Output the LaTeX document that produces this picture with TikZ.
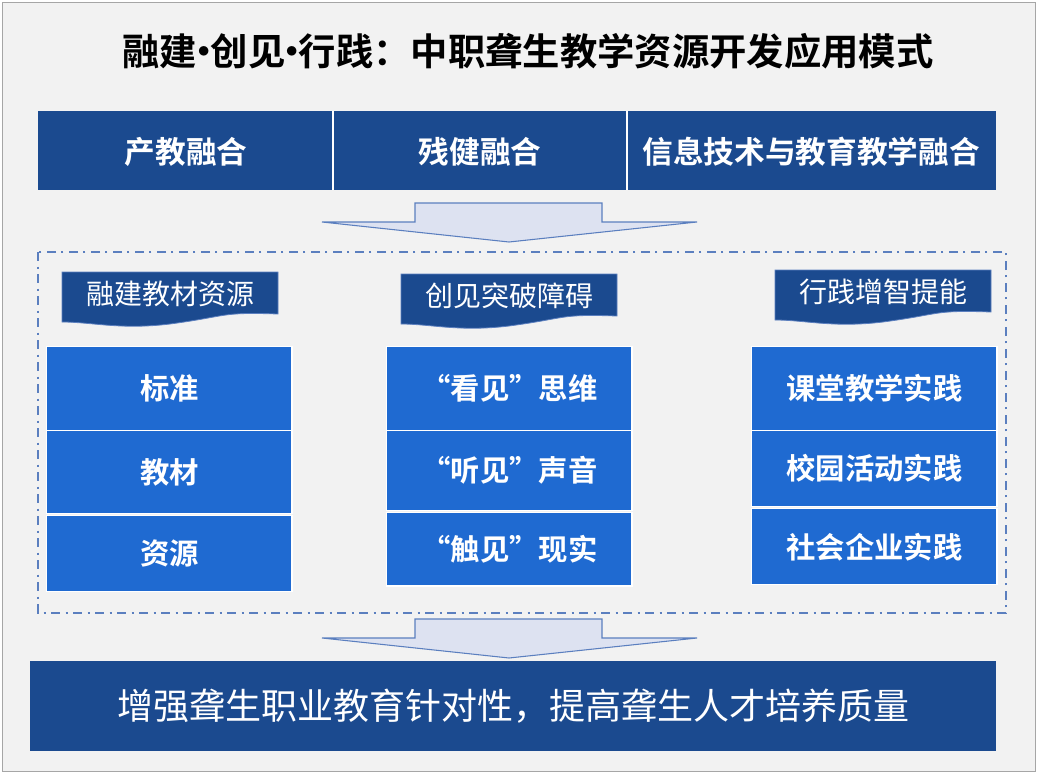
\documentclass[tikz,border=0pt]{standalone}
\usepackage{fontspec}
\setmainfont{Noto Sans CJK SC}
\newfontfamily\cjkb{Noto Sans CJK SC Bold}
\definecolor{dk}{HTML}{1B4A8F}
\definecolor{bl}{HTML}{1F6AD1}
\definecolor{bg}{HTML}{F2F2F2}
\definecolor{ar}{HTML}{DDE2F1}
\definecolor{arb}{HTML}{5B7FBF}
\newcommand{\md}{\hspace{-0.32em}·\hspace{-0.32em}}
\begin{document}
\begin{tikzpicture}[x=0.75pt,y=-0.75pt,
  bbox/.style={fill=bl,draw=white,line width=1pt},
  ttxt/.style={text=white,font=\cjkb\fontsize{23}{26}\selectfont},
  btxt/.style={text=white,font=\cjkb\fontsize{22}{26}\selectfont},
  ban/.style={fill=dk,draw=arb,line width=0.6pt},
  bantxt/.style={text=white,font=\fontsize{21}{24}\selectfont},
  bigarrow/.style={fill=ar,draw=arb,line width=0.8pt}]
\useasboundingbox (0,0) rectangle (1038,774);
\draw[fill=bg,draw=gray!70] (2,2) rectangle (1035,771);
\node[font=\cjkb\fontsize{28}{32}\selectfont] (title) at (528,51) {融建\md 创见\md 行践：中职聋生教学资源开发应用模式};
% top bar
\fill[dk] (38,111) rectangle (996,190);
\draw[white,line width=1pt] (333,111)--(333,190) (627,111)--(627,190);
\node[ttxt] (t1) at (186,152) {产教融合};
\node[ttxt] (t2) at (480,152) {残健融合};
\node[ttxt] (t3) at (811,152) {信息技术与教育教学融合};
% arrow 1
\draw[bigarrow] (415,203)--(602,203)--(602,222)--(697,222)--(509,242)--(322,222)--(415,222)--cycle;
% dashed frame
\draw[arb,line width=1pt,dash pattern=on 7pt off 4pt on 1.5pt off 4pt] (38,252) rectangle (1006,613);
% banners
\foreach \x/\y/\h/\t [count=\i] in {62/272/42/融建教材资源,401/274/42/创见突破障碍,775/270/42/行践增智提能}{
  \draw[ban] (\x,\y) -- ++(216,0) -- ++(0,\h) .. controls ++(-60,-2) and ++(60,-8) .. ++(-108,10) .. controls ++(-50,6) and ++(30,0) .. ++(-108,-2) -- cycle;
  \node[bantxt] (b\i) at (\x+108,\y+22) {\t};
}
% col1
\node[bbox,anchor=north west,minimum width=184pt,minimum height=63pt] (c11) at (46,346) {};
\node[btxt] at (c11) {标准};
\node[bbox,anchor=north west,minimum width=184pt,minimum height=62pt] (c12) at (46,430) {};
\node[btxt] at (c12) {教材};
\node[bbox,anchor=north west,minimum width=184pt,minimum height=57pt] (c13) at (46,515) {};
\node[btxt] at (c13) {资源};
% col2
\node[bbox,anchor=north west,minimum width=184pt,minimum height=63pt] (c21) at (386,346) {};
\node[btxt] at (c21) {“看见”思维};
\node[bbox,anchor=north west,minimum width=184pt,minimum height=60pt] (c22) at (386,430) {};
\node[btxt] at (c22) {“听见”声音};
\node[bbox,anchor=north west,minimum width=184pt,minimum height=55pt] (c23) at (386,512) {};
\node[btxt] at (c23) {“触见”现实};
% col3
\node[bbox,anchor=north west,minimum width=184pt,minimum height=63pt] (c31) at (751,346) {};
\node[btxt] at (c31) {课堂教学实践};
\node[bbox,anchor=north west,minimum width=184pt,minimum height=57pt] (c32) at (751,430) {};
\node[btxt] at (c32) {校园活动实践};
\node[bbox,anchor=north west,minimum width=184pt,minimum height=57pt] (c33) at (751,508) {};
\node[btxt] at (c33) {社会企业实践};
% arrow 2
\draw[bigarrow] (415,619)--(602,619)--(602,638)--(697,638)--(509,658)--(322,638)--(415,638)--cycle;
% bottom
\fill[dk] (30,661) rectangle (996,751);
\node[text=white,font=\fontsize{27}{32}\selectfont] (bot) at (513,706) {增强聋生职业教育针对性，提高聋生人才培养质量};
\end{tikzpicture}
\end{document}
